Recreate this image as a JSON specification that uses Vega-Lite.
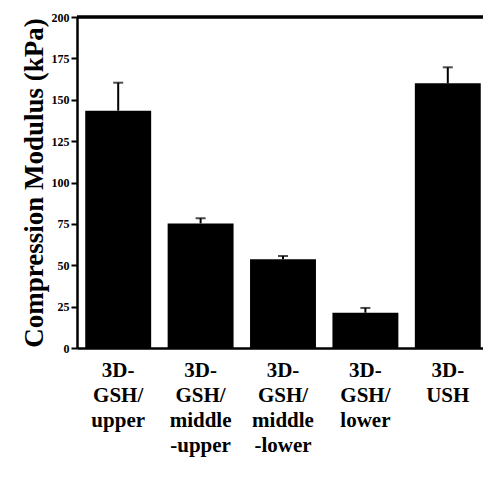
{
  "$schema": "https://vega.github.io/schema/vega-lite/v6.json",
  "autosize": {"type": "none"},
  "padding": {"left": 77, "top": 17, "right": 0, "bottom": 131},
  "width": 406,
  "height": 331,
  "background": "white",
  "config": {
    "view": {"stroke": null},
    "font": "Liberation Serif"
  },
  "data": {
    "values": [
      {"group": "3D-|GSH/|upper", "modulus": 143.4, "upper": 160.3},
      {"group": "3D-|GSH/|middle|-upper", "modulus": 75.3, "upper": 78.4},
      {"group": "3D-|GSH/|middle|-lower", "modulus": 53.6, "upper": 55.6},
      {"group": "3D-|GSH/|lower", "modulus": 21.3, "upper": 24.2},
      {"group": "3D-|USH", "modulus": 159.9, "upper": 169.6}
    ]
  },
  "layer": [
    {
      "mark": {"type": "bar", "color": "black"},
      "encoding": {
        "x": {
          "field": "group",
          "type": "nominal",
          "sort": null,
          "scale": {"paddingInner": 0.2, "paddingOuter": 0.1, "range": [0, 412]},
          "axis": {
            "title": null,
            "labelAngle": 0,
            "labelExpr": "split(datum.label, '|')",
            "labelFont": "Liberation Serif",
            "labelFontWeight": "bold",
            "labelFontSize": 21,
            "labelLineHeight": 25,
            "labelColor": "black",
            "labelPadding": 11,
            "ticks": false,
            "domainColor": "black",
            "domainWidth": 2.5
          }
        },
        "y": {
          "field": "modulus",
          "type": "quantitative",
          "scale": {"domain": [0, 200], "nice": false},
          "axis": {
            "title": "Compression Modulus (kPa)",
            "titleFont": "Liberation Serif",
            "titleFontWeight": "bold",
            "titleFontSize": 27,
            "titleColor": "black",
            "titlePadding": 3,
            "values": [0, 25, 50, 75, 100, 125, 150, 175, 200],
            "grid": false,
            "labelFont": "Liberation Serif",
            "labelFontWeight": "bold",
            "labelFontSize": 12,
            "labelColor": "black",
            "labelPadding": 2,
            "tickColor": "black",
            "tickSize": 6,
            "tickWidth": 2,
            "domainColor": "black",
            "domainWidth": 2.5
          }
        }
      }
    },
    {
      "mark": {"type": "rule", "color": "black", "strokeWidth": 2.5},
      "encoding": {
        "y": {"datum": 200, "type": "quantitative"}
      }
    },
    {
      "mark": {"type": "rule", "color": "black", "strokeWidth": 2},
      "encoding": {
        "x": {"field": "group", "type": "nominal", "sort": null},
        "y": {"field": "modulus", "type": "quantitative"},
        "y2": {"field": "upper"}
      }
    },
    {
      "mark": {"type": "tick", "color": "black", "thickness": 2, "size": 10},
      "encoding": {
        "x": {"field": "group", "type": "nominal", "sort": null},
        "y": {"field": "upper", "type": "quantitative"}
      }
    }
  ]
}
